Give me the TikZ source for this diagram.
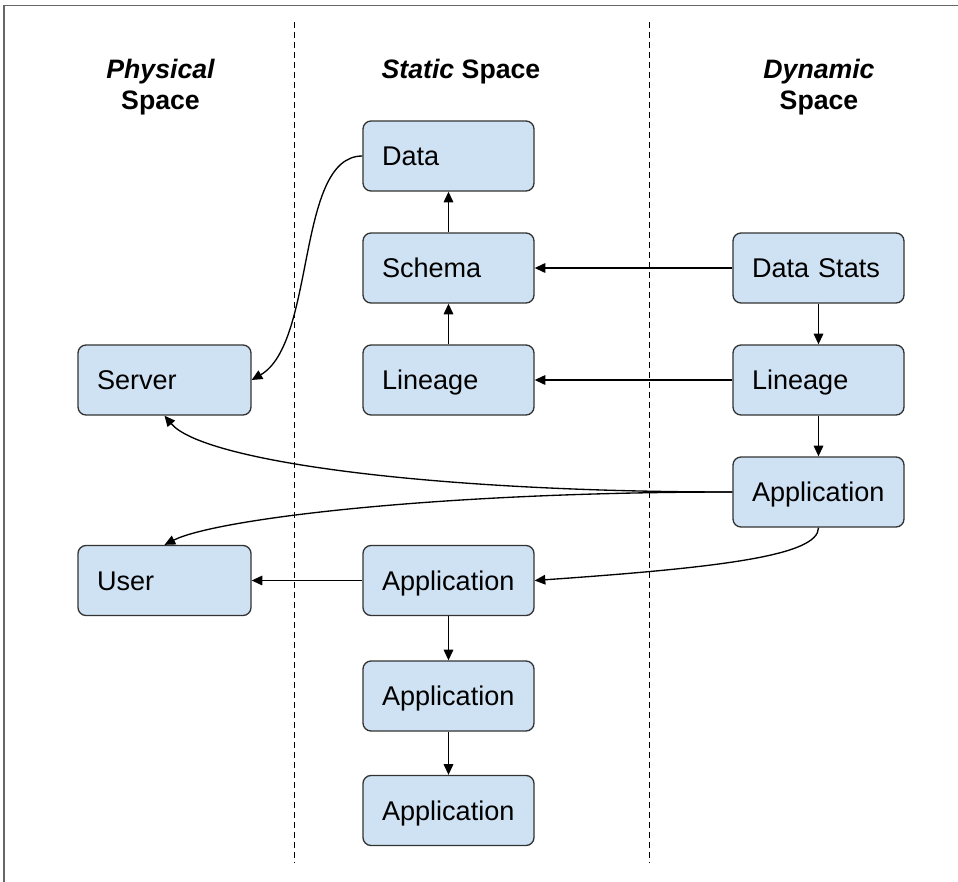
\documentclass[tikz,border=0pt]{standalone}
\usepackage{fontspec}
\setmainfont{Liberation Sans}
\usetikzlibrary{arrows.meta}
\hyphenpenalty=10000
\definecolor{boxfill}{HTML}{CFE2F3}
\definecolor{boxline}{HTML}{333333}
\definecolor{framegray}{HTML}{666666}
\begin{document}
\begin{tikzpicture}[x=0.75pt,y=-0.75pt,
  box/.style={draw=boxline, fill=boxfill, line width=1pt, rounded corners=6pt,
    minimum height=52.5pt, text width=99.75pt, inner xsep=14.25pt, inner ysep=0pt,
    align=left, text height=14.5pt, text depth=0pt,
    font=\fontsize{20.3}{24}\selectfont},
  head/.style={anchor=base, inner sep=0pt, font=\fontsize{20}{24}\selectfont\bfseries},
  arr/.style={draw=black, line width=1pt, -{Triangle[length=8pt,width=7.2pt]}},
  divider/.style={draw=black, line width=0.9pt, dash pattern=on 4.5pt off 3pt}]

\useasboundingbox (0,0) rectangle (958,882);

% outer frame (top and left edges)
\draw[framegray, line width=1.1pt] (4,882) -- (4,5.5) -- (958,5.5);

% column dividers
\draw[divider] (294.5,22) -- (294.5,863);
\draw[divider] (649.5,22) -- (649.5,863);

% column headings
\node[head] (physA) at (160.5,78) {\itshape Physical};
\node[head] (physB) at (160.5,109.5) {Space};
\node[head] (statH) at (461,78) {\textit{Static} Space};
\node[head] (dynA) at (819,78) {\itshape Dynamic};
\node[head] (dynB) at (819,109.5) {Space};

% physical space
\node[box, minimum width=129.75pt, text width=101.25pt] (server) at (164.5,380) {Server};
\node[box, minimum width=129.75pt, text width=101.25pt] (user) at (164.5,580.5) {User};

% static space
\node[box] (data) at (448.5,156) {Data};
\node[box] (schema) at (448.5,268) {Schema};
\node[box] (linS) at (448.5,380) {Lineage};
\node[box] (appS1) at (448.5,580.5) {Application};
\node[box] (appS2) at (448.5,696) {Application};
\node[box] (appS3) at (448.5,810.5) {Application};

% dynamic space
\node[box] (stats) at (818.5,268) {Data Stats};
\node[box] (linD) at (818.5,380) {Lineage};
\node[box] (appD) at (818.5,492) {Application};

% straight connectors
\draw[arr] (schema.north) -- (data.south);
\draw[arr] (linS.north) -- (schema.south);
\draw[arr] (stats.west) -- (schema.east);
\draw[arr] (linD.west) -- (linS.east);
\draw[arr] (stats.south) -- (linD.north);
\draw[arr] (linD.south) -- (appD.north);
\draw[arr] (appS1.west) -- (user.east);
\draw[arr] (appS1.south) -- (appS2.north);
\draw[arr] (appS2.south) -- (appS3.north);

% curved connectors
\draw[arr] (data.west) to[out=180, in=30, out distance=50pt, in distance=56pt] (server.east);
\draw[arr] (appD.west) to[out=180, in=-50, out distance=225pt, in distance=45pt] (server.south);
\draw[arr] (appD.west) to[out=180, in=27, out distance=225pt, in distance=42pt] (user.north);
\draw[arr] (appD.south) to[out=-90, in=4, out distance=21pt, in distance=140pt] (appS1.east);
\end{tikzpicture}
\end{document}
